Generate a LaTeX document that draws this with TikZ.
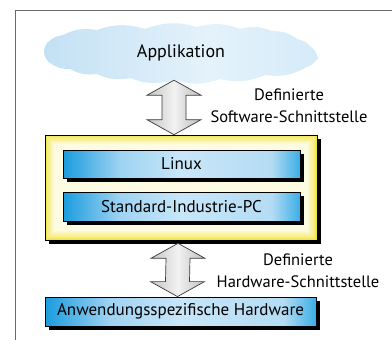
\documentclass[tikz,border=0pt]{standalone}
\usepackage{fontspec}
\setmainfont{PT Sans}
\usetikzlibrary{calc,shadows}

\definecolor{frameline}{HTML}{6A6A6A}
\definecolor{cloudA}{HTML}{C3E1F4}
\definecolor{cloudM}{HTML}{E4F2FB}
\definecolor{cloudB}{HTML}{D5EBF8}
\definecolor{barA}{HTML}{1A9CDE}
\definecolor{barB}{HTML}{9ED3F2}
\definecolor{barC}{HTML}{C8E6F8}
\definecolor{barD}{HTML}{B4DCF4}
\definecolor{barE}{HTML}{3BAEE6}
\definecolor{yel}{HTML}{F1E542}
\definecolor{cream}{HTML}{FDFBE2}
\definecolor{arrA}{HTML}{C4C4C4}
\definecolor{arrB}{HTML}{F2F2F2}
\definecolor{arrC}{HTML}{BDBDBD}
\definecolor{arrline}{HTML}{3C3C3C}

\pgfdeclarehorizontalshading{bluebar}{100bp}{color(0bp)=(barA); color(25bp)=(barA);
  color(37bp)=(barB); color(50bp)=(barC); color(69bp)=(barD); color(75bp)=(barE); color(100bp)=(barE)}
\pgfdeclarehorizontalshading{greyarrow}{100bp}{color(0bp)=(arrA); color(25bp)=(arrA);
  color(50bp)=(arrB); color(75bp)=(arrC); color(100bp)=(arrC)}
\pgfdeclarehorizontalshading{cloudfill}{100bp}{color(0bp)=(cloudA); color(25bp)=(cloudA);
  color(55bp)=(cloudM); color(75bp)=(cloudB); color(100bp)=(cloudB)}

\tikzset{
  layer/.style={draw=black, line width=0.8pt, shading=bluebar, font=\fontsize{17}{19}\selectfont,
    drop shadow={fill=black, opacity=1, shadow xshift=4pt, shadow yshift=-4pt},
    inner sep=0pt},
  ifarrow/.style={draw=arrline, line width=0.7pt, shading=greyarrow, line join=miter},
  iflabel/.style={align=center, font=\fontsize{16.5}{22}\selectfont},
  puff/.style={bend left=18},
}

\begin{document}
\begin{tikzpicture}[x=1pt,y=-1pt]
\useasboundingbox (0,0) rectangle (392,340);
\fill[white] (0,0) rectangle (392,340);

% outer frame
\draw[frameline, line width=0.9pt] (15,341) -- (15,10) -- (393,10);

% application cloud
\path[shading=cloudfill]
  (47,43) to[puff] (63,35) to[puff] (97,30) to[puff] (145,29) to[puff] (197,27)
  to[puff] (240,29) to[puff] (272,31) to[puff] (297,39) to[puff] (311,47)
  to[puff] (318,58) to[puff] (305,68) to[puff] (265,75) to[puff] (220,79)
  to[puff] (175,80) to[puff] (130,78) to[puff] (97,74) to[puff] (70,69)
  to[puff] (50,63) to[puff] (44,53) to[puff] cycle;
\node[minimum width=274pt, minimum height=55pt, inner sep=0pt,
      font=\fontsize{18}{20}\selectfont] (app) at (181,52.5) {Applikation};

% operating system frame (yellow) with shadow
\node[draw=black, line width=0.6pt, fill=yel, minimum width=272pt, minimum height=105pt,
      drop shadow={fill=black, opacity=1, shadow xshift=4pt, shadow yshift=-4pt},
      inner sep=0pt] (os) at (181,187.5) {};
\foreach \i/\m in {1.2/85, 2.4/70, 3.6/56, 4.8/43, 6/31, 7.2/20, 8.4/10, 9.6/0}{
  \fill[yel!\m!cream] ($(os.north west)+(\i,\i)$) rectangle ($(os.south east)+(-\i,-\i)$);
}

\node[layer, minimum width=237pt, minimum height=28pt] (linux) at (181.5,164) {Linux};
\node[layer, minimum width=237pt, minimum height=29pt] (pc) at (181.5,206.5) {Standard-Industrie-PC};
\node[layer, minimum width=271pt, minimum height=29pt] (hw) at (180.5,311.5) {Anwendungsspezifische Hardware};

% interface arrows
\coordinate (t1) at ([xshift=-7pt]app.south);
\coordinate (b1) at ([xshift=-7pt]os.north);
\draw[ifarrow] (t1) -- ++(27,15) -- ++(-15,0) -- ($(b1)+(12,-15)$) -- ++(15,0) -- (b1)
  -- ++(-27,-15) -- ++(15,0) -- ($(t1)+(-12,15)$) -- ++(-15,0) -- cycle;

\coordinate (t2) at ([xshift=-3pt,yshift=-3pt]os.south);
\coordinate (b2) at ([xshift=-3pt]hw.north);
\draw[ifarrow] (t2) -- ++(27,15) -- ++(-15,0) -- ($(b2)+(12,-15)$) -- ++(15,0) -- (b2)
  -- ++(-27,-15) -- ++(15,0) -- ($(t2)+(-12,15)$) -- ++(-15,0) -- cycle;

% interface labels
\node[iflabel] (swlabel) at (289,106) {Definierte\\Software-Schnittstelle};
\node[iflabel] (hwlabel) at (298,271) {Definierte\\Hardware-Schnittstelle};
\end{tikzpicture}
\end{document}
